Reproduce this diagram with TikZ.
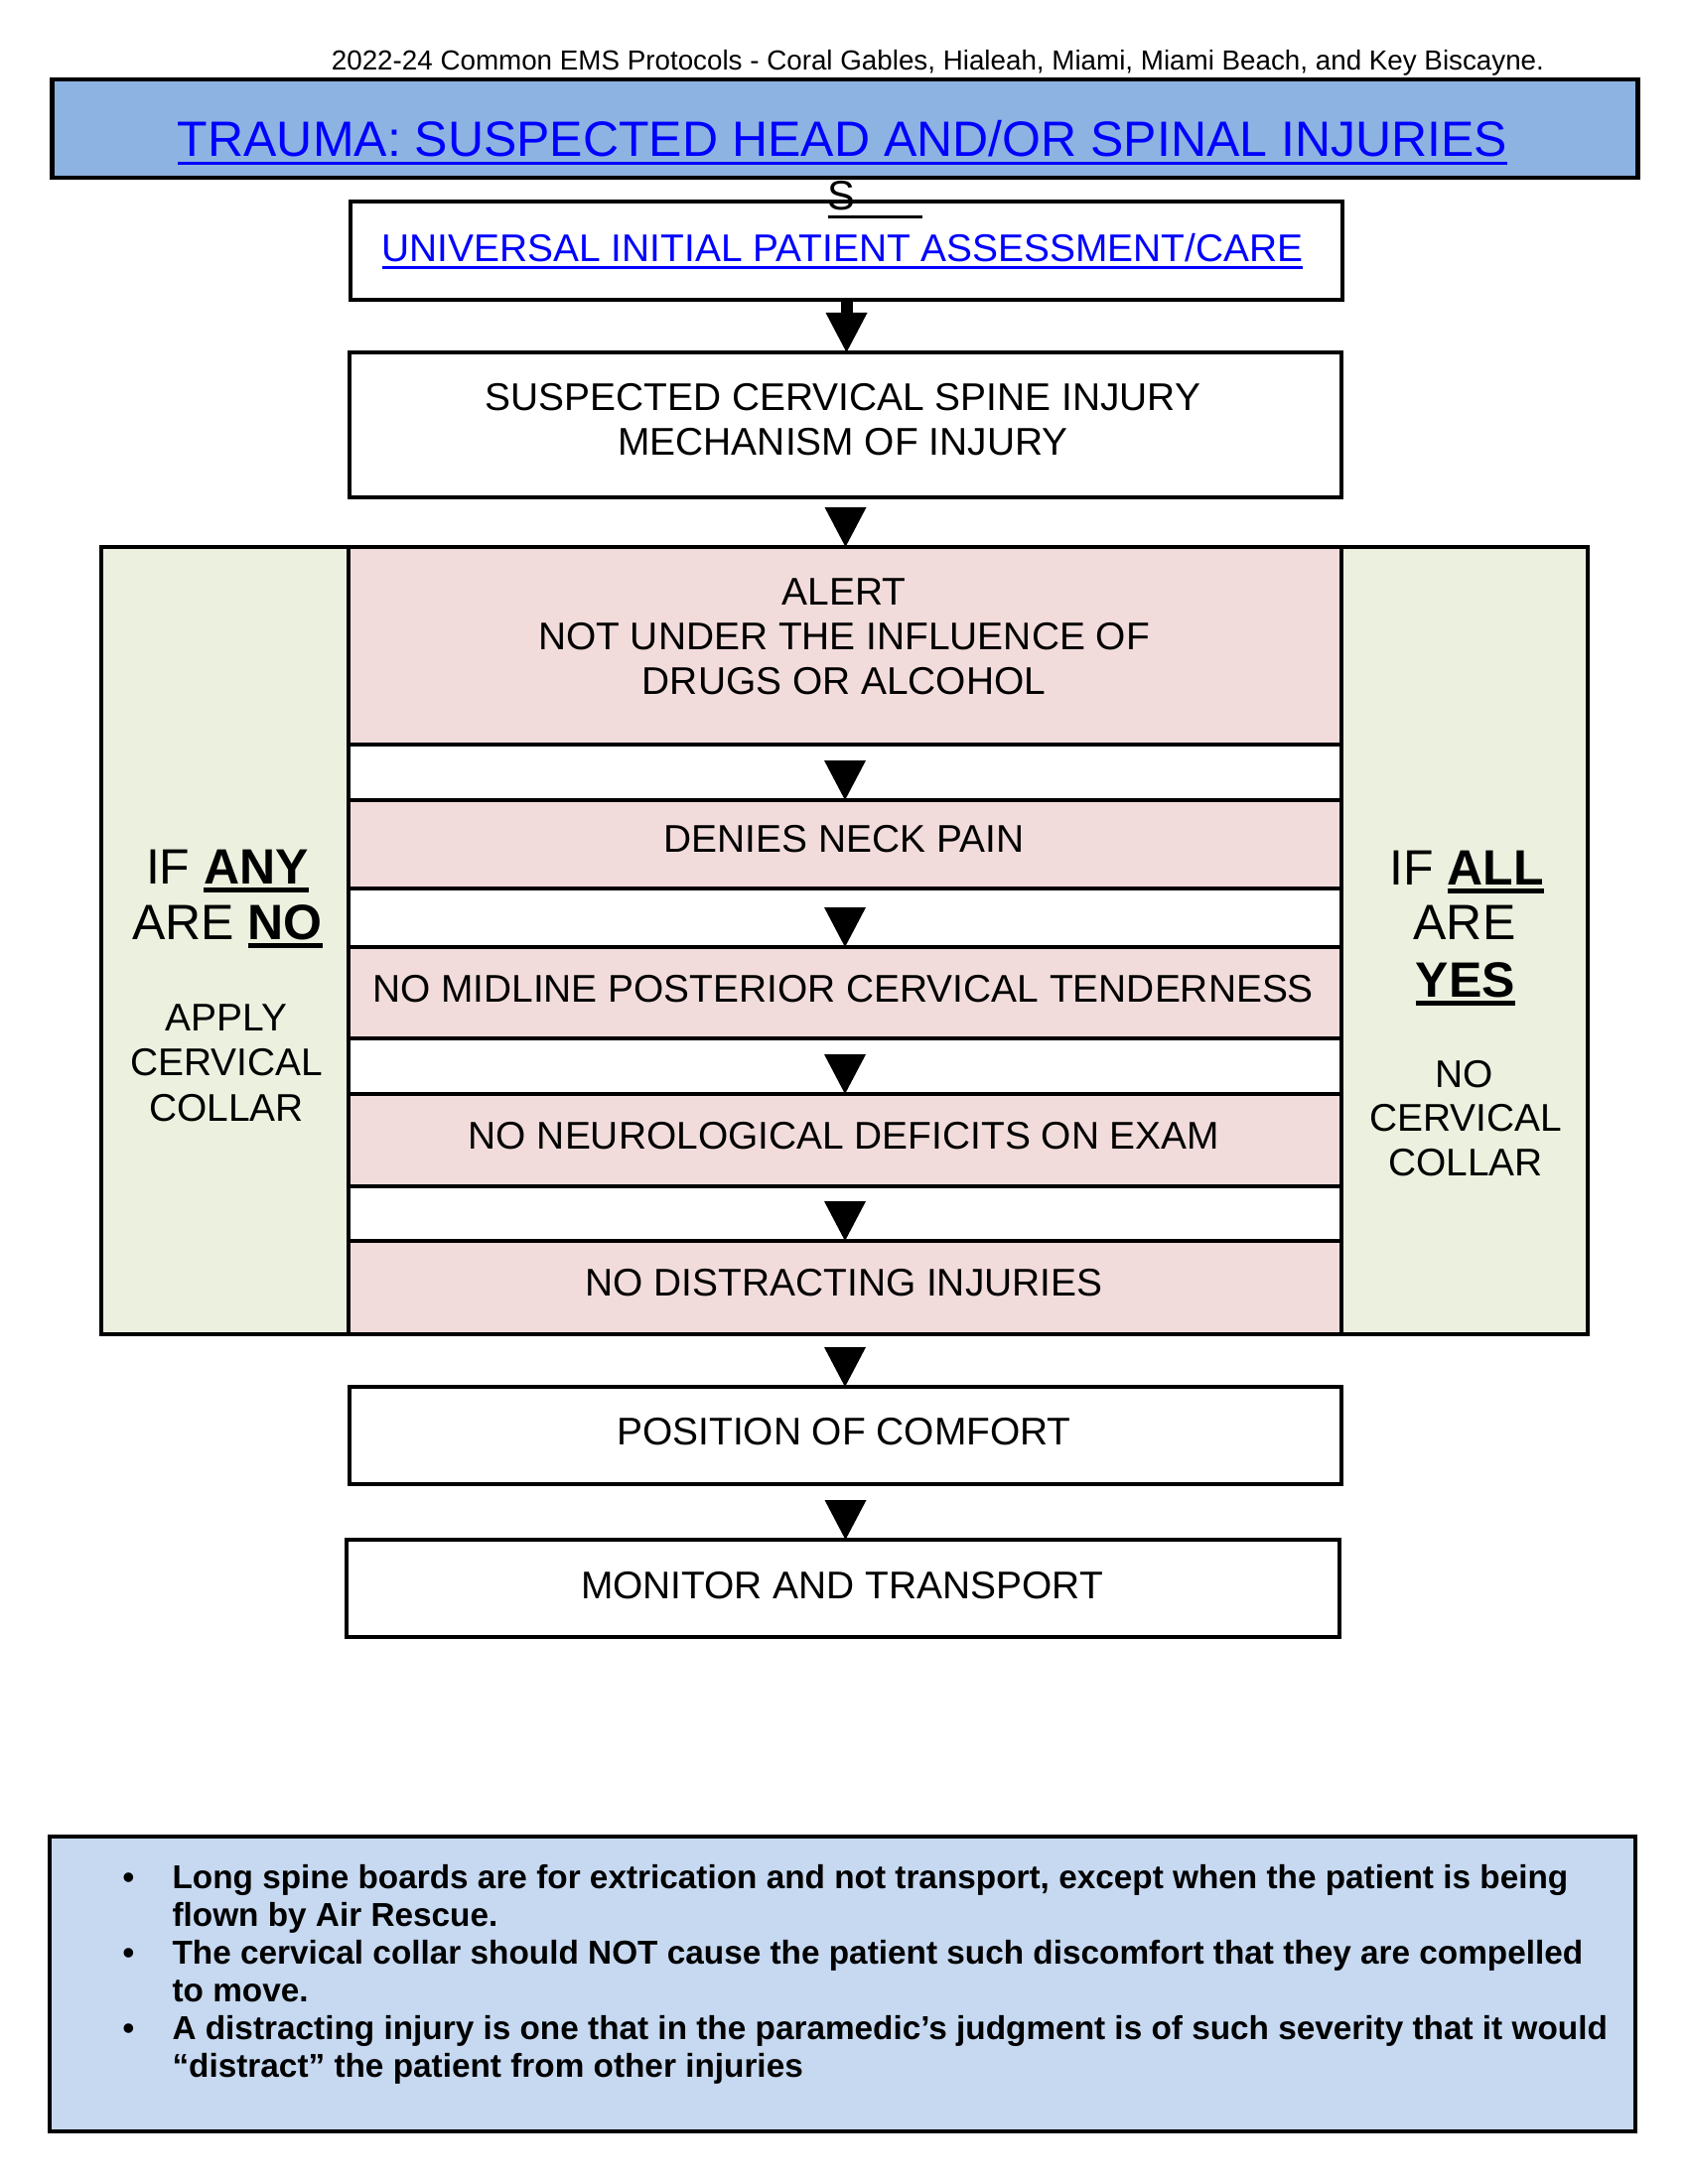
\documentclass[tikz,border=0pt]{standalone}
\usepackage{fontspec}
\setmainfont{Liberation Sans}
\usetikzlibrary{arrows.meta}
\definecolor{titlefill}{RGB}{141,179,226}
\definecolor{notefill}{RGB}{198,217,241}
\definecolor{pinkfill}{RGB}{242,220,219}
\definecolor{greenfill}{RGB}{235,241,222}
\definecolor{linkblue}{RGB}{0,0,255}
\newcommand{\myul}[1]{\setbox0=\hbox{#1}\rlap{\rule[-0.17em]{\wd0}{0.065em}}\box0}
\newcommand{\myulb}[1]{\setbox0=\hbox{#1}\rlap{\rule[-0.18em]{\wd0}{0.1em}}\box0}
\tikzset{
  box/.style={draw=black, line width=1.7pt, rectangle, inner sep=0pt, outer sep=0pt},
  sz/.style 2 args={minimum width=#1*0.36pt, minimum height=#2*0.36pt},
  txtA/.style={font=\fontsize{14}{16.2}\selectfont, inner sep=0pt, align=center},
  txtB/.style={font=\fontsize{18}{20.7}\selectfont, inner sep=0pt},
  tri/.style={-{Triangle[length=14.4pt,width=15.12pt,line width=0pt,color=black,fill=black]}, draw=white, line width=0.1pt, shorten <=3pt},
  stemarrow/.style={-{Triangle[length=14.4pt,width=15.12pt,line width=0pt]}, draw=black, line width=4.32pt},
}
\begin{document}
\begin{tikzpicture}[x=0.36pt,y=-0.36pt]
\fill[white] (0,0) rectangle (1700,2200);
\useasboundingbox (0,0) rectangle (1700,2200);

% header
\node[anchor=base, inner sep=0pt, font=\fontsize{10}{12}\selectfont] (hdr) at (944.5,71)
  {2022-24 Common EMS Protocols - Coral Gables, Hialeah, Miami, Miami Beach, and Key Biscayne.};

% title
\node[box, fill=titlefill, sz={1597}{99}] (title) at (851,129.5) {};
\node[txtB, anchor=base, text=linkblue] (titletext) at (848.5,158)
  {\myul{TRAUMA: SUSPECTED HEAD AND/OR SPINAL INJURIES}};

% universal assessment
\node[box, fill=white, sz={999}{99}] (uipac) at (852.5,252.5) {};
\node[txtA, anchor=base, text=linkblue] (uipactext) at (848.5,264)
  {\myul{UNIVERSAL INITIAL PATIENT ASSESSMENT/CARE}};

% stray S
\node[anchor=base west, inner sep=0pt, font=\fontsize{15}{18}\selectfont] (stray) at (833,212)
  {\rlap{\rule[-2.9pt]{34.2pt}{1.1pt}}S};

% mechanism box
\node[box, fill=white, sz={999}{146}] (b2) at (851.5,428) {};
\node[txtA] (b2text) at (849,423) {SUSPECTED CERVICAL SPINE INJURY\\MECHANISM OF INJURY};

% side boxes
\node[box, fill=greenfill, sz={249}{793}] (lg) at (226.5,947.5) {};
\node[box, fill=greenfill, sz={248}{793}] (rg) at (1475,947.5) {};

% pink rows
\node[box, fill=pinkfill, sz={1000}{199}] (r1) at (851,650.5) {};
\node[box, fill=pinkfill, sz={1000}{89}] (r2) at (851,850.5) {};
\node[box, fill=pinkfill, sz={1000}{92}] (r3) at (851,1000) {};
\node[box, fill=pinkfill, sz={1000}{93}] (r4) at (851,1148.5) {};
\node[box, fill=pinkfill, sz={1000}{94}] (r5) at (851,1297) {};

\node[txtA] (r1text) at (850,641) {ALERT\\NOT UNDER THE INFLUENCE OF\\DRUGS OR ALCOHOL};
\node[txtA, anchor=base] (r2text) at (850,858.3) {DENIES NECK PAIN};
\node[txtA, anchor=base] (r3text) at (849,1009.7) {NO MIDLINE POSTERIOR CERVICAL TENDERNESS};
\node[txtA, anchor=base] (r4text) at (850,1157) {NO NEUROLOGICAL DEFICITS ON EXAM};
\node[txtA, anchor=base] (r5text) at (850,1305.7) {NO DISTRACTING INJURIES};

% left column text
\node[txtB, anchor=base] (l1) at (229,890) {IF \myulb{\textbf{ANY}}};
\node[txtB, anchor=base] (l2) at (229,946) {ARE \myulb{\textbf{NO}}};
\node[txtA, anchor=base] (l3) at (228,1038.5) {APPLY};
\node[txtA, anchor=base] (l4) at (228,1083) {CERVICAL};
\node[txtA, anchor=base] (l5) at (228,1129) {COLLAR};

% right column text
\node[txtB, anchor=base] (g1) at (1477,891) {IF \myulb{\textbf{ALL}}};
\node[txtB, anchor=base] (g2) at (1475,946) {ARE};
\node[txtB, anchor=base] (g3) at (1476,1004) {\myulb{\textbf{YES}}};
\node[txtA, anchor=base] (g4) at (1475,1095.5) {NO};
\node[txtA, anchor=base] (g5) at (1476,1139.5) {CERVICAL};
\node[txtA, anchor=base] (g6) at (1476,1184) {COLLAR};

% bottom boxes
\node[box, fill=white, sz={999}{98}] (comfort) at (851.5,1446) {};
\node[txtA, anchor=base] (comforttext) at (850,1455.8) {POSITION OF COMFORT};
\node[box, fill=white, sz={1000}{98}] (monitor) at (849,1600) {};
\node[txtA, anchor=base] (monitortext) at (848,1610.1) {MONITOR AND TRANSPORT};

% arrows
\draw[stemarrow] (uipac.south) -- (uipac.south |- b2.north);
\draw[tri] (b2.south) -- (b2.south |- r1.north);
\draw[tri] (r1.south) -- (r2.north);
\draw[tri] (r2.south) -- (r3.north);
\draw[tri] (r3.south) -- (r4.north);
\draw[tri] (r4.south) -- (r5.north);
\draw[tri] (r5.south) -- (r5.south |- comfort.north);
\draw[tri] (comfort.south) -- (comfort.south |- monitor.north);

% notes
\node[box, fill=notefill, sz={1597}{297}] (notes) at (848.5,1998.5) {};
\node[anchor=base west, inner sep=0pt, font=\fontsize{12}{13.68}\selectfont\bfseries] (notetext) at (123,1902) {%
\begin{tabular}[t]{@{}l@{}l@{}}
\makebox[18pt][l]{\textbullet} & Long spine boards are for extrication and not transport, except when the patient is being\\
 & flown by Air Rescue.\\
\makebox[18pt][l]{\textbullet} & The cervical collar should NOT cause the patient such discomfort that they are compelled\\
 & to move.\\
\makebox[18pt][l]{\textbullet} & A distracting injury is one that in the paramedic’s judgment is of such severity that it would\\
 & “distract” the patient from other injuries
\end{tabular}};
\end{tikzpicture}
\end{document}
